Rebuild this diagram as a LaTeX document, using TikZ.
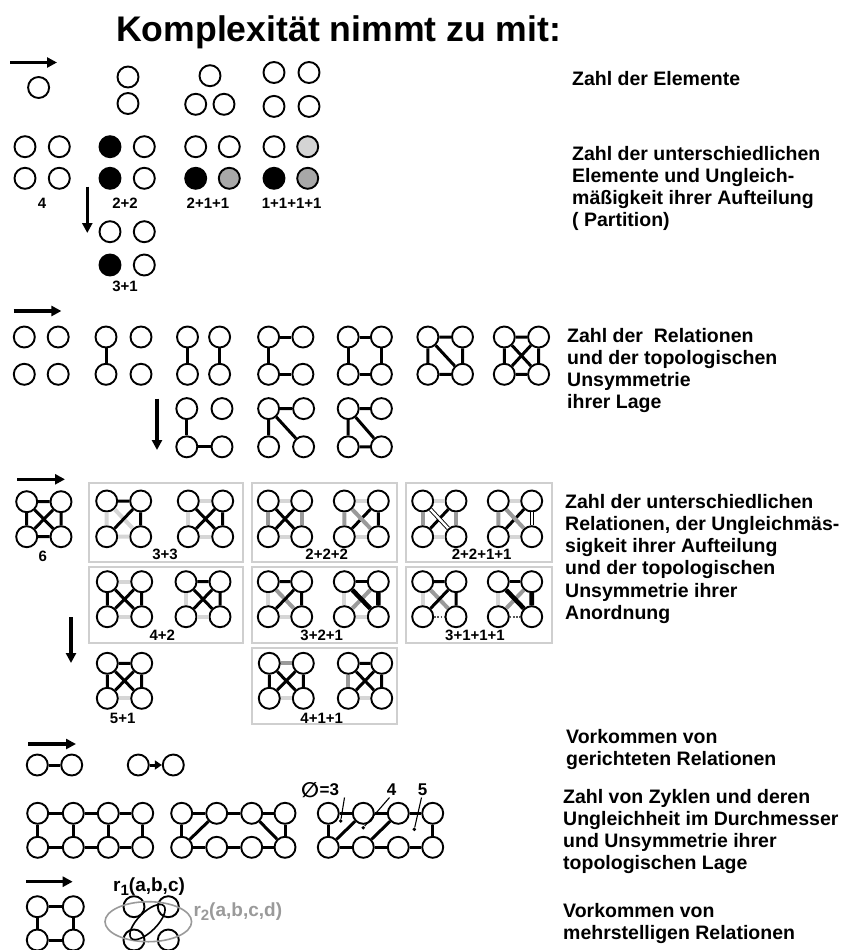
\documentclass[tikz,border=0pt]{standalone}
\usepackage{fontspec}
\setmainfont{Liberation Sans}
\newfontfamily\symfont{DejaVu Sans}
\usetikzlibrary{arrows.meta,shapes.geometric}

\definecolor{lgray}{HTML}{D6D6D6}
\definecolor{mgray}{HTML}{9A9A9A}
\definecolor{framegray}{HTML}{CFCFCF}
\definecolor{fillone}{HTML}{D4D4D4}
\definecolor{filltwo}{HTML}{A8A8A8}

\tikzset{
  el/.style={circle, draw=black, line width=1.9pt, minimum size=21pt, inner sep=0pt, fill=white},
  elb/.style={el, fill=black},
  ell/.style={el, fill=fillone},
  elm/.style={el, fill=filltwo},
  rb/.style={draw=black, line width=3pt},
  rk/.style={draw=black, line width=4.6pt},
  rl/.style={draw=lgray, line width=4pt},
  rm/.style={draw=mgray, line width=4pt},
  rdbl/.style={draw=black, line width=0.9pt, double=white, double distance=2.4pt},
  rdot/.style={draw=black!65, line width=2pt, dash pattern=on 1.6pt off 1.6pt},
  bigarrow/.style={line width=3.2pt, -{Triangle[length=10pt,width=10pt]}},
  frm/.style={draw=framegray, line width=1.8pt},
  lab/.style={font=\fontsize{15}{17}\selectfont\bfseries, anchor=base, inner sep=0pt},
  desc/.style={anchor=base west, inner sep=0pt},
  dotn/.style={circle, fill=black, inner sep=0pt, minimum size=3.8pt},
  leader/.style={draw=black, line width=1.1pt},
}

% descriptive text block, first line on the anchor's baseline
\newcommand\desctext[1]{\parbox[t]{300pt}{\fontsize{19.5}{22.3}\selectfont\bfseries\raggedright #1}}

% four elements: a = top left, b = top right, c = bottom left, d = bottom right
\newcommand\fourset[5]{%
  \node[el] (#1a) at (#2,#3) {};
  \node[el] (#1b) at (#4,#3) {};
  \node[el] (#1c) at (#2,#5) {};
  \node[el] (#1d) at (#4,#5) {};
}

% ladder of 2 x 4 elements with its outer cycle
\newcommand\ladderset[7]{%
  \foreach \i/\xx in {1/#2,2/#3,3/#4,4/#5}{
    \node[el] (#1t\i) at (\xx,#6) {};
    \node[el] (#1b\i) at (\xx,#7) {};
  }
  \draw[rb] (#1t1)--(#1t2) (#1t2)--(#1t3) (#1t3)--(#1t4)
            (#1b1)--(#1b2) (#1b2)--(#1b3) (#1b3)--(#1b4)
            (#1t1)--(#1b1) (#1t4)--(#1b4);
}

\begin{document}
\begin{tikzpicture}[x=1pt, y=-1pt]
\useasboundingbox (0,0) rectangle (851,950);
\fill[white] (0,0) rectangle (851,950);

% ---------- title ----------
\node[anchor=base west, inner sep=0pt, font=\fontsize{35.6}{40}\selectfont\bfseries] (title) at (116,42) {Komplexität nimmt zu mit:};

% ---------- number of elements ----------
\coordinate (a1s) at (10,62.5); \coordinate (a1e) at (57,62.5);
\draw[bigarrow] (a1s) -- (a1e);
\node[el] (s1) at (38.6,87.5) {};
\node[el] (d1) at (128,77) {};
\node[el] (d2) at (128,103.5) {};
\node[el] (t1) at (210,75.7) {};
\node[el] (t2) at (195.7,104.3) {};
\node[el] (t3) at (224,104.3) {};
\fourset{q}{274}{72.5}{309}{106.4}

\node[desc] (txt1) at (572,85) {\desctext{Zahl der Elemente}};

% ---------- partitions ----------
\node[el] (p1a) at (25,146.7) {};
\node[el] (p1b) at (59.3,146.7) {};
\node[el] (p1c) at (25,178.3) {};
\node[el] (p1d) at (59.3,178.3) {};
\node[lab] (l4) at (42,208.5) {4};

\node[elb] (p2a) at (110,146.7) {};
\node[el]  (p2b) at (144.3,146.7) {};
\node[elb] (p2c) at (110,178.3) {};
\node[el]  (p2d) at (144.3,178.3) {};
\node[lab] (l22) at (125,208.5) {2+2};

\node[el]  (p3a) at (195.7,146.7) {};
\node[el]  (p3b) at (229.3,146.7) {};
\node[elb] (p3c) at (195.7,178.3) {};
\node[elm] (p3d) at (229.3,178.3) {};
\node[lab] (l211) at (208,208.5) {2+1+1};

\node[el]  (p4a) at (274,146.7) {};
\node[ell] (p4b) at (307.7,146.7) {};
\node[elb] (p4c) at (274,178.3) {};
\node[elm] (p4d) at (307.7,178.3) {};
\node[lab] (l1111) at (291.7,208.5) {1+1+1+1};

\coordinate (a2s) at (87.3,186.7); \coordinate (a2e) at (87.3,233);
\draw[bigarrow] (a2s) -- (a2e);

\node[el]  (p5a) at (110,231.7) {};
\node[el]  (p5b) at (144.3,231.7) {};
\node[elb] (p5c) at (110,265) {};
\node[el]  (p5d) at (144.3,265) {};
\node[lab] (l31) at (125,291.5) {3+1};

\node[desc] (txt2) at (572,160) {\desctext{Zahl der unterschiedlichen\\Elemente und Ungleich-\\mäßigkeit ihrer Aufteilung\\( Partition)}};

% ---------- relations ----------
\coordinate (a3s) at (13.6,311); \coordinate (a3e) at (61.4,311);
\draw[bigarrow] (a3s) -- (a3e);

\fourset{ra}{24.3}{337}{58.2}{374.3}
\fourset{rbb}{106}{337}{141}{374.3}
\draw[rb] (rbba)--(rbbc);
\fourset{rc}{187.5}{337}{219.6}{374.3}
\draw[rb] (rca)--(rcc) (rcb)--(rcd);
\fourset{rd}{268.6}{337}{302.9}{374.3}
\draw[rb] (rda)--(rdb) (rda)--(rdc) (rdc)--(rdd);
\fourset{re}{348.2}{337}{381.4}{374.3}
\draw[rb] (rea)--(reb) (rea)--(rec) (reb)--(red) (rec)--(red);
\fourset{rf}{427.9}{337}{462.5}{374.3}
\draw[rb] (rfa)--(rfb) (rfa)--(rfc) (rfb)--(rfd) (rfc)--(rfd) (rfa)--(rfd);
\fourset{rg}{504.3}{337}{538.6}{374.3}
\draw[rb] (rga)--(rgb) (rga)--(rgc) (rgb)--(rgd) (rgc)--(rgd) (rga)--(rgd) (rgb)--(rgc);

\coordinate (a4s) at (157,398.6); \coordinate (a4e) at (157,450);
\draw[bigarrow] (a4s) -- (a4e);

\fourset{rh}{186.8}{408.6}{222}{446.8}
\draw[rb] (rha)--(rhc) (rhc)--(rhd);
\fourset{ri}{268.6}{408.6}{303.6}{446.8}
\draw[rb] (ria)--(rib) (ria)--(ric) (ria)--(rid);
\fourset{rj}{348.2}{408.6}{381.4}{446.8}
\draw[rb] (rja)--(rjb) (rja)--(rjc) (rja)--(rjd) (rjc)--(rjd);

\node[desc] (txt3) at (567,342) {\desctext{Zahl der~ Relationen\\und der topologischen\\Unsymmetrie\\ihrer Lage}};

% ---------- different relations ----------
\coordinate (a5s) at (17,479.3); \coordinate (a5e) at (65,479.3);
\draw[bigarrow] (a5s) -- (a5e);

\fourset{k}{26.7}{501.7}{61}{536.7}
\draw[rb] (ka)--(kb) (ka)--(kc) (kb)--(kd) (kc)--(kd) (ka)--(kd) (kb)--(kc);
\node[lab] (l6) at (42.7,561.5) {6};

% frames
\draw[frm] (89.3,482.7) rectangle (242.7,561.7);
\draw[frm] (251.7,482.7) rectangle (397.3,561.7);
\draw[frm] (405.7,482.7) rectangle (551.7,561.7);
\draw[frm] (89.3,567.3) rectangle (242.7,642.7);
\draw[frm] (251.7,567.3) rectangle (397.3,642.7);
\draw[frm] (405.7,567.3) rectangle (551.7,642.7);
\draw[frm] (251.7,648.3) rectangle (396.7,724);

% 3+3
\fourset{ba}{106.7}{501}{140.7}{536.7}
\draw[rl] (baa)--(bac) (bac)--(bad) (baa)--(bad);
\draw[rb] (baa)--(bab) (bab)--(bad) (bab)--(bac);
\fourset{bb}{188.3}{501}{222.7}{536.7}
\draw[rl] (bba)--(bbb) (bba)--(bbc) (bbc)--(bbd);
\draw[rb] (bba)--(bbd) (bbb)--(bbc) (bbb)--(bbd);
\node[lab] (l33) at (165,559) {3+3};

% 2+2+2
\fourset{bc}{268.3}{501}{301.7}{536.7}
\draw[rl] (bca)--(bcb) (bcc)--(bcd);
\draw[rm] (bca)--(bcc) (bcb)--(bcd);
\draw[rb] (bca)--(bcd) (bcb)--(bcc);
\fourset{bd}{344.3}{501}{378.3}{536.7}
\draw[rl] (bda)--(bdb) (bdc)--(bdd);
\draw[rb] (bdb)--(bdc) (bdb)--(bdd);
\draw[rm] (bda)--(bdc) (bda)--(bdd);
\node[lab] (l222) at (326.7,559) {2+2+2};

% 2+2+1+1
\fourset{be}{422.7}{501}{456}{536.7}
\draw[rl] (bea)--(beb) (bec)--(bed);
\draw[rm] (bea)--(bec) (beb)--(bed);
\draw[rb] (beb)--(bec);
\draw[rdbl] (bea)--(bed);
\fourset{bf}{498.3}{501}{531.7}{536.7}
\draw[rl] (bfa)--(bfb) (bfc)--(bfd);
\draw[rb] (bfb)--(bfc);
\draw[rm] (bfa)--(bfc) (bfa)--(bfd);
\draw[rdbl] (bfb)--(bfd);
\node[lab] (l2211) at (481.7,559) {2+2+1+1};

% 4+2
\fourset{bg}{107.3}{581.7}{141.7}{616.7}
\draw[rl] (bga)--(bgb) (bgc)--(bgd);
\draw[rb] (bga)--(bgc) (bgb)--(bgd) (bga)--(bgd) (bgb)--(bgc);
\fourset{bh}{186}{581.7}{220}{616.7}
\draw[rl] (bha)--(bhc) (bhc)--(bhd);
\draw[rb] (bha)--(bhb) (bhb)--(bhd) (bha)--(bhd) (bhb)--(bhc);
\node[lab] (l42) at (162.3,640.5) {4+2};

% 3+2+1
\fourset{bi}{268.3}{581.7}{301.7}{616.7}
\draw[rl] (bia)--(bic) (bic)--(bid);
\draw[rm] (bia)--(bid);
\draw[rb] (bia)--(bib) (bib)--(bid) (bib)--(bic);
\fourset{bj}{344.3}{581.7}{378.3}{616.7}
\draw[rl] (bja)--(bjc) (bjc)--(bjd);
\draw[rm] (bjb)--(bjc);
\draw[rb] (bja)--(bjb);
\draw[rk] (bja)--(bjd) (bjb)--(bjd);
\node[lab] (l321) at (321.7,640.5) {3+2+1};

% 3+1+1+1
\fourset{bk}{422.7}{581.7}{456}{616.7}
\draw[rl] (bka)--(bkc);
\draw[rm] (bka)--(bkd);
\draw[rdot] (bkc)--(bkd);
\draw[rb] (bka)--(bkb) (bkb)--(bkd) (bkb)--(bkc);
\fourset{bl}{498.3}{581.7}{531.7}{616.7}
\draw[rl] (bla)--(blc);
\draw[rm] (blb)--(blc);
\draw[rdot] (blc)--(bld);
\draw[rb] (bla)--(blb);
\draw[rk] (bla)--(bld) (blb)--(bld);
\node[lab] (l3111) at (475,640.5) {3+1+1+1};

\coordinate (a6s) at (71,617); \coordinate (a6e) at (71,663);
\draw[bigarrow] (a6s) -- (a6e);

% 5+1
\fourset{bm}{107.3}{663.3}{141.7}{698.3}
\draw[rl] (bmc)--(bmd);
\draw[rb] (bma)--(bmb) (bma)--(bmc) (bmb)--(bmd) (bma)--(bmd) (bmb)--(bmc);
\node[lab] (l51) at (122.7,723) {5+1};

% 4+1+1
\fourset{bn}{269.3}{663.3}{303.3}{698.3}
\draw[rm] (bna)--(bnb);
\draw[rl] (bnc)--(bnd);
\draw[rb] (bna)--(bnc) (bnb)--(bnd) (bna)--(bnd) (bnb)--(bnc);
\fourset{bo}{348.3}{663.3}{381.7}{698.3}
\draw[rm] (boa)--(boc);
\draw[rl] (boc)--(bod);
\draw[rb] (boa)--(bob) (bob)--(bod) (boa)--(bod) (bob)--(boc);
\node[lab] (l411) at (321.7,723) {4+1+1};

\node[desc] (txt4) at (565,508) {\desctext{Zahl der unterschiedlichen\\Relationen, der Ungleichmäs-\\sigkeit ihrer Aufteilung\\und der topologischen\\Unsymmetrie ihrer\\Anordnung}};

% ---------- directed relations ----------
\coordinate (a7s) at (28.3,744); \coordinate (a7e) at (76,744);
\draw[bigarrow] (a7s) -- (a7e);
\node[el] (u1) at (37.3,765) {};
\node[el] (u2) at (71.7,765) {};
\draw[rb] (u1) -- (u2);
\node[el] (v1) at (138.3,765) {};
\node[el] (v2) at (173.3,765) {};
\draw[line width=3pt, -{Triangle[length=7pt,width=9pt]}] (v1) -- (v2);

\node[desc] (txt5) at (566,743) {\desctext{Vorkommen von\\gerichteten Relationen}};

% ---------- cycles ----------
\ladderset{la}{37.7}{73.3}{108.3}{142.7}{813.3}{847.3}
\draw[rb] (lat2)--(lab2) (lat3)--(lab3);
\ladderset{lb}{181.7}{216.7}{251.7}{285}{813.3}{847.3}
\draw[rb] (lbb1)--(lbt2) (lbt3)--(lbb4);
\ladderset{lc}{328.3}{363.3}{398.3}{432.7}{813.3}{847.3}
\draw[rb] (lcb1)--(lct2) (lcb2)--(lct3);

\node[dotn] (c3) at (340.7,821) {};
\node[dotn] (c4) at (363.3,827.7) {};
\node[dotn] (c5) at (414.3,829.3) {};
\node[anchor=base west, inner sep=0pt, font=\fontsize{17}{18}\selectfont\bfseries] (dia) at (301,795) {\raisebox{-2.2pt}{\symfont\fontsize{21}{22}\selectfont ∅}\hspace{0.5pt}=3};
\node[anchor=base, inner sep=0pt, font=\fontsize{17}{18}\selectfont\bfseries] (d4) at (391.5,795) {4};
\node[anchor=base, inner sep=0pt, font=\fontsize{17}{18}\selectfont\bfseries] (d5) at (422.5,795) {5};
\coordinate (k3) at (344.5,797.5);
\coordinate (k4) at (389.5,797.5);
\coordinate (k5) at (421.5,797.5);
\draw[leader] (k3) -- (c3);
\draw[leader] (k4) -- (c4);
\draw[leader] (k5) -- (c5);

\node[desc] (txt6) at (563,803) {\desctext{Zahl von Zyklen und deren\\Ungleichheit im Durchmesser\\und Unsymmetrie ihrer\\topologischen Lage}};

% ---------- relations of higher arity ----------
\coordinate (a8s) at (26,881.7); \coordinate (a8e) at (72.7,881.7);
\draw[bigarrow] (a8s) -- (a8e);
\fourset{m}{37.3}{906.7}{73.3}{940}
\draw[rb] (ma)--(mb) (ma)--(mc) (mb)--(md) (mc)--(md);

\fourset{n}{134}{906.7}{168.3}{940}
\node[ellipse, draw=mgray, line width=1.6pt, minimum width=86.6pt, minimum height=40pt, inner sep=0pt] (e2) at (148.3,921.7) {};
\node[ellipse, draw=black, line width=1.6pt, minimum width=46pt, minimum height=19pt, inner sep=0pt, rotate=45] (e1) at (147.5,922) {};
\node[anchor=base west, inner sep=0pt, font=\fontsize{19}{21}\selectfont\bfseries] (r1) at (113,891) {r\raisebox{-4pt}{\fontsize{15}{17}\selectfont 1}(a,b,c)};
\node[anchor=base west, inner sep=0pt, text=mgray, font=\fontsize{19}{21}\selectfont\bfseries] (r2) at (193.3,916) {r\raisebox{-4pt}{\fontsize{15}{17}\selectfont 2}(a,b,c,d)};

\node[desc] (txt7) at (563,917) {\desctext{Vorkommen von\\mehrstelligen Relationen}};
\end{tikzpicture}
\end{document}
